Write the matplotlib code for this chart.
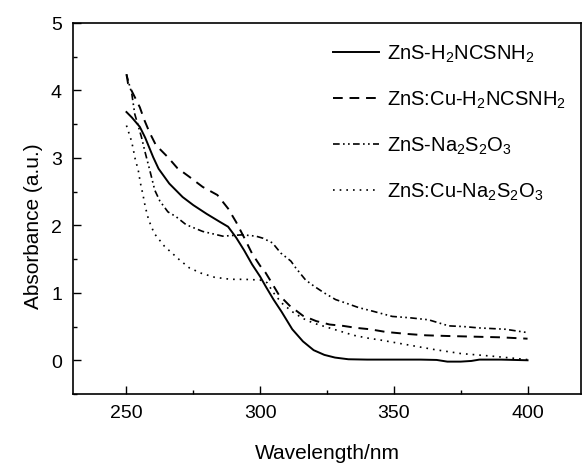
import matplotlib
matplotlib.use("Agg")
import matplotlib.pyplot as plt
from matplotlib.ticker import MultipleLocator

plt.rcParams['font.family'] = ['Liberation Sans', 'DejaVu Sans']
plt.rcParams['mathtext.fontset'] = 'custom'
plt.rcParams['mathtext.rm'] = 'Liberation Sans'
plt.rcParams['mathtext.it'] = 'Liberation Sans'
plt.rcParams['mathtext.default'] = 'regular'

# ---- data ----
x_h = [250, 252, 255, 257, 260, 262, 266, 271, 275, 280, 285, 288, 291, 294, 297, 300,
       302, 305, 308, 312, 316, 320, 324, 328, 333, 340, 350, 360, 366, 370, 375, 379,
       382, 390, 400]
y_h = [3.68, 3.60, 3.46, 3.30, 3.01, 2.84, 2.62, 2.42, 2.30, 2.17, 2.05, 1.98, 1.82,
       1.63, 1.42, 1.24, 1.10, 0.90, 0.72, 0.46, 0.28, 0.15, 0.08, 0.04, 0.015, 0.01,
       0.01, 0.01, 0.005, -0.02, -0.02, -0.01, 0.01, 0.01, 0.0]

x_cu_h = [250, 250.6, 252.5, 255, 256.7, 258.6, 261, 265.5, 269, 273.5, 278.5, 284, 288,
          291, 294, 297, 300, 302, 304, 307, 311, 316, 321, 326, 331, 336, 341, 347, 355,
          362, 370, 380, 390, 400]
y_cu_h = [4.24, 4.10, 3.95, 3.75, 3.56, 3.38, 3.19, 3.01, 2.85, 2.72, 2.57, 2.45, 2.25,
          2.05, 1.82, 1.58, 1.40, 1.30, 1.17, 0.97, 0.81, 0.66, 0.58, 0.53, 0.51, 0.48,
          0.46, 0.42, 0.39, 0.37, 0.36, 0.35, 0.34, 0.32]

x_na = [250, 252, 253.1, 255.6, 256.8, 258.7, 260.6, 262.5, 265.5, 268.5, 272.3, 278.5,
        286, 293.4, 298.4, 301, 304.6, 307.7, 311.5, 313.3, 317, 320.1, 323.9, 328.2,
        331.9, 336.9, 341.9, 349.4, 356, 363, 370.5, 376, 381.7, 391.7, 400]
y_na = [4.24, 3.95, 3.65, 3.31, 3.11, 2.82, 2.52, 2.36, 2.20, 2.13, 2.01, 1.91, 1.84,
        1.86, 1.84, 1.81, 1.74, 1.59, 1.47, 1.37, 1.19, 1.10, 1.00, 0.90, 0.85, 0.78,
        0.73, 0.65, 0.63, 0.60, 0.51, 0.50, 0.48, 0.46, 0.41]

x_cu_na = [250, 251.8, 252.5, 253.1, 253.7, 254.4, 254.9, 255.5, 256.1, 257, 258.3, 260.4,
           264.2, 269.8, 273.5, 278, 283, 289, 294, 300, 302.6, 305, 308, 312, 316, 320,
           325, 330, 335, 340, 345, 355, 365, 375, 387, 400]
y_cu_na = [3.48, 3.26, 3.14, 3.01, 2.92, 2.82, 2.70, 2.57, 2.47, 2.28, 2.08, 1.88, 1.69,
           1.49, 1.37, 1.29, 1.23, 1.20, 1.20, 1.19, 1.15, 1.00, 0.85, 0.72, 0.62, 0.55,
           0.49, 0.43, 0.37, 0.33, 0.30, 0.23, 0.16, 0.10, 0.06, 0.01]

labels = ['ZnS-H$_2$NCSNH$_2$', 'ZnS:Cu-H$_2$NCSNH$_2$',
          'ZnS-Na$_2$S$_2$O$_3$', 'ZnS:Cu-Na$_2$S$_2$O$_3$']

x_ticks = [250, 300, 350, 400]
y_ticks = [0, 1, 2, 3, 4, 5]

# ---- figure ----
fig = plt.figure(figsize=(5.83, 4.64), dpi=100)
ax = fig.add_axes([0.1252, 0.1487, 0.8714, 0.7996])

ax.plot(x_h, y_h, color='black', lw=1.4, ls='-', label=labels[0])
ax.plot(x_cu_h, y_cu_h, color='black', lw=1.4, ls=(0, (5, 3.5)), label=labels[1])
ax.plot(x_na, y_na, color='black', lw=1.2, ls=(0, (4, 2, 1, 2, 1, 2)), label=labels[2])
ax.plot(x_cu_na, y_cu_na, color='black', lw=1.2, ls=(0, (1, 3)), label=labels[3])

ax.set_xlim(230, 420)
ax.set_ylim(-0.5, 5)
ax.set_xticks(x_ticks)
ax.set_yticks(y_ticks)
ax.xaxis.set_minor_locator(MultipleLocator(25))
ax.yaxis.set_minor_locator(MultipleLocator(0.5))
ax.tick_params(which='both', direction='in', top=False, right=False,
               labelsize=14, width=1)
ax.tick_params(axis='x', which='major', length=6, pad=7)
ax.tick_params(axis='y', which='major', length=6, pad=8)
ax.tick_params(which='minor', length=3)
for s in ax.spines.values():
    s.set_linewidth(1.2)

ax.set_xlabel('Wavelength/nm', fontsize=15)
ax.set_ylabel('Absorbance (a.u.)', fontsize=15)
ax.xaxis.set_label_coords(0.5, -0.132)
ax.yaxis.set_label_coords(-0.06, 0.455)

leg = ax.legend(loc='upper left', bbox_to_anchor=(0.476, 0.995), frameon=False,
                fontsize=14.5, handlelength=2.3, handletextpad=0.4,
                labelspacing=1.22)

fig.savefig('out.png', dpi=100)
